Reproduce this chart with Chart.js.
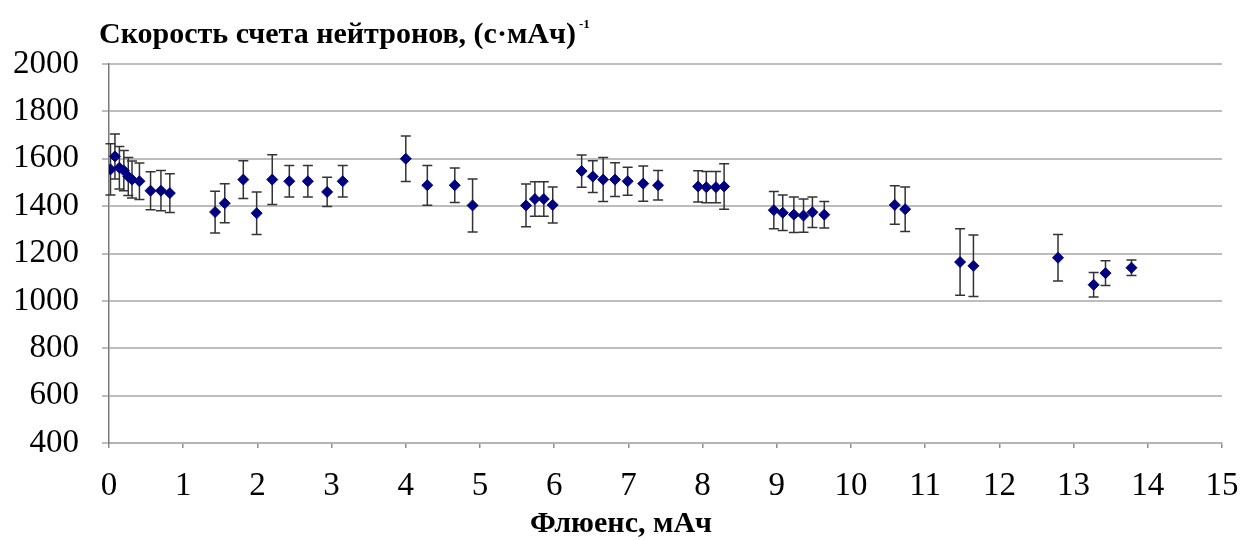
<!DOCTYPE html>
<html>
<head>
<meta charset="utf-8">
<script src="https://cdn.jsdelivr.net/npm/chart.js@4.4.1/dist/chart.umd.min.js"></script>
<style>
  html, body { margin: 0; padding: 0; background: #fff; }
  #wrap { position: relative; width: 1248px; height: 540px; }
  .label {
    position: absolute; font-family: "Liberation Serif", serif; font-weight: bold;
    white-space: nowrap; color: #000;
  }
  #ytitle { left: 99px; top: 16px; font-size: 30px; line-height: 34px; }
  #ytitle .sup { font-size: 13px; position: relative; top: -15px; margin-left: 3px; }
  #xtitle { left: 530px; top: 505px; font-size: 30px; line-height: 34px; }
</style>
</head>
<body>
<div id="wrap">
  <canvas id="chart" width="1248" height="540"></canvas>
  <div id="ytitle" class="label">Скорость счета нейтронов, (с·мАч)<span class="sup">-1</span></div>
  <div id="xtitle" class="label">Флюенс, мАч</div>
</div>
<script>
// fluence, mA·h
const fluence = [
  0.02, 0.08, 0.14, 0.20, 0.26, 0.31, 0.41, 0.56, 0.70, 0.82,
  1.43, 1.56, 1.81, 1.99, 2.20, 2.43, 2.68, 2.94, 3.15,
  4.00, 4.29, 4.66, 4.90, 5.62, 5.74, 5.86, 5.98,
  6.37, 6.52, 6.66, 6.82, 6.99, 7.20, 7.40,
  7.94, 8.05, 8.18, 8.29,
  8.96, 9.08, 9.23, 9.36, 9.48, 9.64,
  10.59, 10.73, 11.47, 11.65, 12.79, 13.27, 13.43, 13.78
];
// neutron count rate, (s·mA·h)^-1
const rate = [
  1555, 1610, 1562, 1550, 1525, 1512, 1505, 1465, 1465, 1455,
  1375, 1412, 1512, 1370, 1512, 1505, 1505, 1460, 1505,
  1600, 1488, 1488, 1403, 1403, 1430, 1430, 1405,
  1548, 1525, 1512, 1512, 1505, 1495, 1488,
  1483, 1480, 1480, 1483,
  1383, 1372, 1364, 1360, 1374, 1364,
  1405, 1387, 1164, 1148, 1182, 1068, 1117, 1140
];
const rateErr = [
  108, 95, 90, 85, 80, 78, 77, 80, 85, 82,
  88, 82, 80, 90, 105, 66, 66, 62, 66,
  96, 84, 73, 112, 90, 73, 73, 76,
  68, 67, 93, 71, 59, 74, 62,
  66, 66, 66, 96,
  79, 75, 75, 70, 64, 56,
  81, 94, 140, 130, 98, 52, 52, 33
];
const xTicks = [0, 15, 1];       // min, max, step
const yTicks = [400, 2000, 200]; // min, max, step

const errorBars = {
  id: 'errorBars',
  beforeDatasetsDraw(chart) {
    const { ctx, scales: { x, y } } = chart;
    ctx.save();
    ctx.strokeStyle = '#333';
    ctx.lineWidth = 1.5;
    fluence.forEach((f, i) => {
      const px = x.getPixelForValue(f);
      const top = y.getPixelForValue(rate[i] + rateErr[i]);
      const bot = y.getPixelForValue(rate[i] - rateErr[i]);
      ctx.beginPath();
      ctx.moveTo(px, top); ctx.lineTo(px, bot);
      ctx.moveTo(px - 5, top); ctx.lineTo(px + 5, top);
      ctx.moveTo(px - 5, bot); ctx.lineTo(px + 5, bot);
      ctx.stroke();
    });
    ctx.restore();
  }
};

const tickFont = { family: '"Liberation Serif", serif', size: 33 };

new Chart(document.getElementById('chart'), {
  type: 'scatter',
  data: {
    datasets: [{
      data: fluence.map((f, i) => ({ x: f, y: rate[i] })),
      pointStyle: 'rectRot',
      pointRadius: 5.5,
      pointBorderWidth: 1,
      backgroundColor: '#000080',
      borderColor: '#000080',
    }],
  },
  options: {
    responsive: false,
    animation: false,
    layout: { padding: { left: 0, right: 26, top: 64, bottom: 0 } },
    plugins: { legend: { display: false }, tooltip: { enabled: false } },
    scales: {
      x: {
        type: 'linear',
        min: xTicks[0], max: xTicks[1],
        ticks: { stepSize: xTicks[2], color: '#000', font: tickFont, padding: 19, maxRotation: 0 },
        grid: { drawOnChartArea: false, drawTicks: true, tickLength: 5, color: '#8c8c8c', lineWidth: 1.5 },
        border: { color: '#b4b4b4', width: 2 },
        afterFit: (s) => { s.height = 97; s.paddingLeft = 0; s.paddingRight = 0; },
      },
      y: {
        min: yTicks[0], max: yTicks[1],
        ticks: { stepSize: yTicks[2], color: '#000', font: tickFont, padding: 23, callback: (v) => String(v) },
        grid: { color: '#bdbdbd', lineWidth: 2, tickLength: 7 },
        border: { color: '#7a7a7a', width: 1.5 },
        afterFit: (s) => { s.width = 109; s.paddingTop = 0; s.paddingBottom = 0; },
      },
    },
  },
  plugins: [errorBars],
});
</script>
</body>
</html>
